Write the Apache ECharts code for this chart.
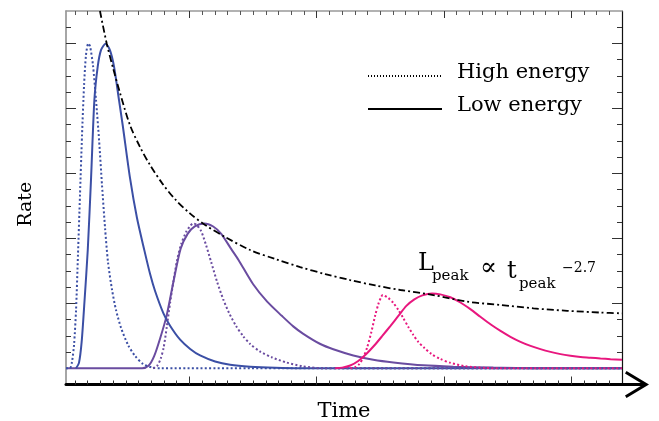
<!DOCTYPE html>
<html>
<head>
<meta charset="utf-8">
<script src="https://cdn.jsdelivr.net/npm/echarts@6/dist/echarts.min.js"></script>
<style>html,body{margin:0;padding:0;background:#fff}#c{width:659px;height:421px}</style>
</head>
<body>
<div id="c"></div>
<script>
// ---- data (x: time in minor-tick units, y: rate in minor-tick units) ----
const X_MIN = 0.3, X_MAX = 44, Y_MIN = -1, Y_MAX = 22;
const xMinorTicks = [1,2,3,4,5,6,7,8,9,10,11,12,13,14,15,16,17,18,19,20,21,22,23,24,25,26,27,28,29,30,31,32,33,34,35,36,37,38,39,40,41,42,43];
const xMajorTicks = [10,20,30,40];
const yMinorTicks = [0,1,2,3,4,5,6,7,8,9,10,11,12,13,14,15,16,17,18,19,20,21];
const yMajorTicks = [0,4,8,12,16,20];

const seriesNames = ['High energy', 'Low energy'];
const curveColors = ['#3b4fa5', '#6a4ca0', '#e8177e'];

const blueHigh = [[0.3,0],[0.61,0],[0.77,0.39],[0.93,1.43],[1.09,3.59],[1.24,6.97],[1.40,10.67],[1.56,14.36],[1.72,17.43],[1.87,19.28],[2.05,20.0],[2.19,19.83],[2.42,18.66],[2.66,16.51],[2.90,14.05],[3.13,11.28],[3.37,8.63],[3.60,6.54],[3.92,4.82],[4.23,3.59],[4.63,2.48],[5.18,1.43],[5.73,0.76],[6.36,0.26],[7.14,0.03],[7.70,0],[44,0]];
const blueLow = [[1.09,0],[1.32,0.33],[1.53,1.62],[1.75,4.08],[2.01,7.28],[2.27,11.71],[2.53,16.51],[2.79,18.56],[3.05,19.59],[3.41,19.99],[3.76,19.58],[4.08,18.56],[4.47,16.49],[4.76,14.95],[5.33,11.72],[5.88,9.25],[6.46,7.26],[6.91,5.80],[7.30,4.76],[7.95,3.40],[8.48,2.62],[9.27,1.76],[10.06,1.19],[10.84,0.79],[12.02,0.42],[13.20,0.22],[14.78,0.10],[16.74,0.03],[18.71,0],[44,0]];
const purpleHigh = [[7.14,0],[7.46,0.14],[7.73,0.57],[7.97,1.25],[8.22,2.54],[8.48,4.02],[8.76,5.43],[9.03,6.66],[9.35,7.64],[9.74,8.39],[10.06,8.76],[10.29,8.92],[10.53,8.85],[10.92,8.45],[11.31,7.58],[11.71,6.54],[12.18,5.31],[12.65,4.26],[13.12,3.40],[13.67,2.60],[14.22,1.98],[14.78,1.49],[15.56,1.03],[16.51,0.66],[17.61,0.36],[18.87,0.13],[20.44,0],[44,0]];
const purpleLow = [[0.3,0],[6.28,0],[6.78,0.15],[7.22,0.73],[7.69,1.82],[8.21,3.24],[8.76,5.39],[9.31,7.36],[9.87,8.29],[10.42,8.74],[11.16,8.92],[11.87,8.73],[12.50,8.28],[13.28,7.35],[13.86,6.67],[15.01,5.17],[16.11,4.10],[17.26,3.23],[18.16,2.58],[18.95,2.12],[20.25,1.51],[21.31,1.17],[22.88,0.79],[24.45,0.53],[26.03,0.36],[28.39,0.18],[30.75,0.10],[33.89,0.04],[37.59,0],[44,0]];
const pinkHigh = [[22.64,0],[23.04,0.08],[23.35,0.26],[23.67,0.66],[23.98,1.31],[24.30,2.23],[24.61,3.28],[24.85,3.95],[25.08,4.41],[25.20,4.51],[25.32,4.48],[25.63,4.33],[26.03,4.02],[26.42,3.59],[26.81,3.09],[27.21,2.54],[27.60,2.05],[27.99,1.62],[28.47,1.25],[29.02,0.88],[29.72,0.57],[30.51,0.34],[31.69,0.12],[33.27,0.02],[34.45,0],[44,0]];
const pinkLow = [[21.46,0],[22.01,0.04],[22.64,0.17],[23.27,0.45],[23.90,0.88],[24.53,1.40],[25.16,1.99],[25.79,2.60],[26.42,3.22],[27.05,3.84],[27.68,4.24],[28.31,4.49],[29.07,4.61],[29.72,4.55],[30.51,4.37],[31.30,4.05],[32.08,3.64],[32.87,3.17],[33.66,2.71],[34.45,2.30],[35.23,1.94],[36.02,1.63],[36.81,1.38],[37.59,1.18],[38.38,1.01],[39.17,0.87],[39.95,0.77],[40.74,0.69],[41.53,0.65],[42.31,0.60],[43.10,0.56],[44,0.53]];
const peakEnvelope = [[2.97,22],[3.50,20.0],[4.00,18.48],[4.55,16.94],[5.33,14.97],[6.12,13.62],[6.91,12.51],[7.85,11.40],[8.87,10.41],[10.06,9.52],[11.24,8.82],[12.81,8.08],[14.78,7.28],[16.74,6.73],[18.71,6.23],[20.68,5.80],[22.64,5.43],[24.61,5.10],[26.58,4.82],[29.17,4.51],[31.83,4.10],[34.45,3.90],[37.04,3.69],[39.69,3.54],[42.31,3.43],[44.0,3.38]];

// ---- chart ----
const SERIF = 'DejaVu Serif';
const ARROW = 'path://M13.5,0 L27,22.5 L24.4,24 L15,8.3 L15,27 L12,27 L12,8.3 L2.6,24 L0,22.5 Z';
const DOT = [2, 2.3];

function xAx(pos, ticks, len, line, tickColor, extra) {
  return Object.assign({
    type: 'value', min: X_MIN, max: X_MAX, position: pos,
    axisLine: Object.assign({ onZero: false }, line),
    axisTick: { show: true, inside: true, length: len, customValues: ticks, lineStyle: { color: tickColor, width: 1 } },
    axisLabel: { show: false }, splitLine: { show: false }
  }, extra || {});
}
function yAx(pos, ticks, len, line, tickColor, extra) {
  return Object.assign({
    type: 'value', min: Y_MIN, max: Y_MAX, position: pos,
    axisLine: Object.assign({ onZero: false }, line),
    axisTick: { show: true, inside: true, length: len, customValues: ticks, lineStyle: { color: tickColor, width: 1 } },
    axisLabel: { show: false }, splitLine: { show: false }
  }, extra || {});
}
function curve(name, data, color, type, z) {
  return { name: name, type: 'line', data: data, xAxisIndex: 0, yAxisIndex: 0,
    showSymbol: false, symbol: 'none', smooth: 0.25, silent: true, z: z,
    lineStyle: { color: color, width: 2, type: type } };
}

const chart = echarts.init(document.getElementById('c'), null, { renderer: 'canvas' });
chart.setOption({
  animation: false,
  backgroundColor: '#fff',
  grid: { left: 66, right: 37, top: 11, bottom: 36.5, containLabel: false, outerBoundsMode: 'none' },
  xAxis: [
    xAx('bottom', xMinorTicks, 4,
      { show: true, lineStyle: { color: '#000', width: 3 }, symbol: ['none', ARROW], symbolSize: [27, 27], symbolOffset: [0, 13.5] },
      '#333',
      { name: 'Time', nameLocation: 'middle', nameGap: 16.5,
        nameTextStyle: { fontFamily: SERIF, fontSize: 21, color: '#000' } }),
    xAx('bottom', xMajorTicks, 8, { show: false }, '#333'),
    xAx('top', xMinorTicks, 4, { show: true, lineStyle: { color: '#999', width: 1.5 } }, '#555'),
    xAx('top', xMajorTicks, 7, { show: false }, '#333')
  ],
  yAxis: [
    yAx('left', yMinorTicks, 5, { show: true, lineStyle: { color: '#888', width: 1.5 } }, '#333',
      { name: 'Rate', nameLocation: 'middle', nameGap: 30, nameRotate: 90,
        nameTextStyle: { fontFamily: SERIF, fontSize: 19, color: '#000', padding: [0, 13, 0, 0] } }),
    yAx('left', yMajorTicks, 10, { show: false }, '#333'),
    yAx('right', yMinorTicks, 5, { show: true, lineStyle: { color: '#111', width: 1.2 } }, '#333'),
    yAx('right', yMajorTicks, 10, { show: false }, '#333')
  ],
  legend: {
    data: seriesNames, orient: 'vertical', left: 367, top: 62.5, padding: 0,
    itemWidth: 74, itemHeight: 14, itemGap: 12,
    itemStyle: { opacity: 0 },
    formatter: '{t|{name}}',
    textStyle: { fontFamily: SERIF, fontSize: 21, color: '#000',
      rich: { t: { fontFamily: SERIF, fontSize: 21, color: '#000', padding: [0, 0, 6, 10] } } }
  },
  series: [
    { name: seriesNames[0], type: 'line', data: [], symbol: 'none', itemStyle: { color: '#000', opacity: 0 }, lineStyle: { color: '#000', width: 1.2, type: [1, 2] } },
    { name: seriesNames[1], type: 'line', data: [], symbol: 'none', itemStyle: { color: '#000', opacity: 0 }, lineStyle: { color: '#000', width: 2, type: 'solid' } },
    curve('purpleLow', purpleLow, curveColors[1], 'solid', 3),
    curve('blueLow', blueLow, curveColors[0], 'solid', 3),
    curve('blueHigh', blueHigh, curveColors[0], DOT, 3),
    curve('purpleHigh', purpleHigh, curveColors[1], DOT, 4),
    curve('pinkLow', pinkLow, curveColors[2], 'solid', 5),
    curve('pinkHigh', pinkHigh, curveColors[2], DOT, 5),
    { name: 'envelope', type: 'line', data: peakEnvelope, showSymbol: false, symbol: 'none', smooth: 0.3, silent: true, z: 6,
      lineStyle: { color: '#000', width: 1.8, type: [7, 3, 2, 3] } }
  ],
  graphic: [
    { type: 'text', x: 418, y: 264, style: { text: 'L', font: '24px "DejaVu Serif"', fill: '#000', verticalAlign: 'middle' } },
    { type: 'text', x: 432, y: 276, style: { text: 'peak', font: '15px "DejaVu Serif"', fill: '#000', verticalAlign: 'middle' } },
    { type: 'text', x: 480, y: 268, style: { text: '\u221D', font: '25px "DejaVu Serif"', fill: '#000', verticalAlign: 'middle' } },
    { type: 'text', x: 507, y: 272, style: { text: 't', font: '24px "DejaVu Serif"', fill: '#000', verticalAlign: 'middle' } },
    { type: 'text', x: 519, y: 284, style: { text: 'peak', font: '15px "DejaVu Serif"', fill: '#000', verticalAlign: 'middle' } },
    { type: 'text', x: 562, y: 268, style: { text: '\u22122.7', font: '14px "DejaVu Serif"', fill: '#000', verticalAlign: 'middle' } }
  ]
});
</script>
</body>
</html>
